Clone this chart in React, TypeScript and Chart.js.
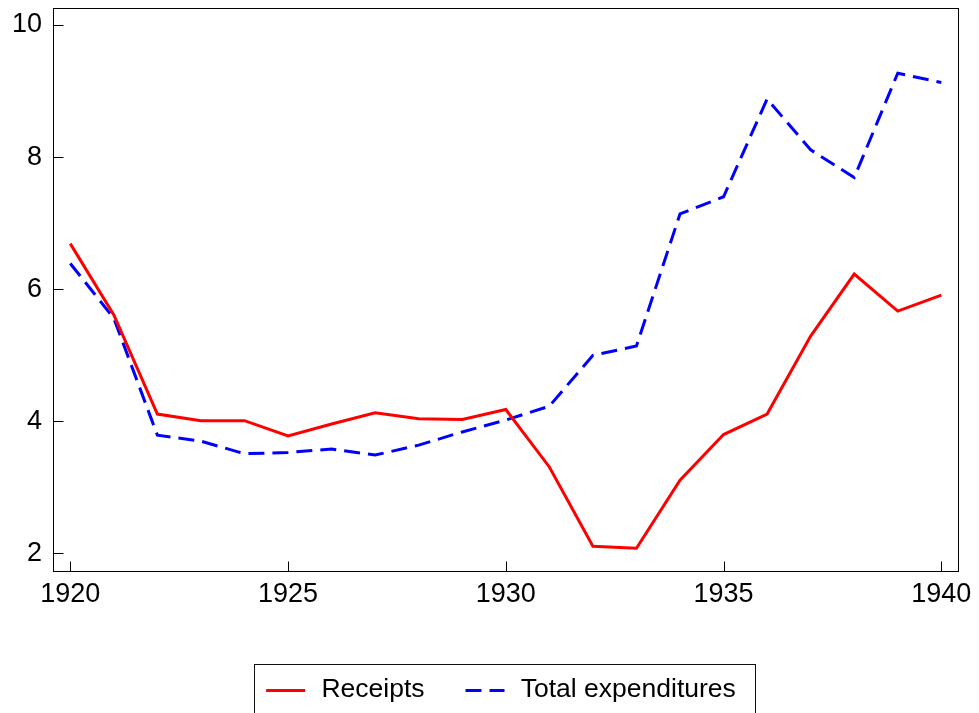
import React, { useEffect, useRef } from "react";
import { Chart, registerables } from "chart.js";

Chart.register(...registerables);

const years = [1920, 1921, 1922, 1923, 1924, 1925, 1926, 1927, 1928, 1929, 1930, 1931, 1932, 1933, 1934, 1935, 1936, 1937, 1938, 1939, 1940];
const receipts = [6.69, 5.61, 4.11, 4.01, 4.01, 3.78, 3.96, 4.13, 4.04, 4.03, 4.18, 3.31, 2.11, 2.08, 3.11, 3.80, 4.11, 5.29, 6.23, 5.67, 5.91];
const expenditures = [6.39, 5.56, 3.79, 3.70, 3.51, 3.53, 3.58, 3.49, 3.64, 3.84, 4.02, 4.23, 5.00, 5.14, 7.14, 7.40, 8.88, 8.11, 7.69, 9.27, 9.13];
const seriesNames = ["Receipts", "Total expenditures"];
const yTicks = [2, 4, 6, 8, 10];
const xTicks = [1920, 1925, 1930, 1935, 1940];

const FONT = "'Liberation Sans', Arial, Helvetica, sans-serif";
const LEGEND_FONT = 26.5;
const LEGEND_PAD = 43;
const SAMPLE_W = 39;

const framePlugin = {
  id: "frame",
  afterLayout(chart: any) {
    const lg = chart.legend;
    const a = chart.chartArea;
    if (lg && a) {
      const target = (a.left + a.right) / 2 - 3.5;
      const d = target - (lg.left + lg.right) / 2;
      lg.left += d;
      lg.right += d;
    }
  },
  afterDraw(chart: any) {
    const ctx = chart.ctx;
    const a = chart.chartArea;
    ctx.save();
    ctx.strokeStyle = "#000";
    ctx.lineWidth = 1;
    ctx.setLineDash([]);
    const l = Math.round(a.left) + 0.5;
    const t = Math.round(a.top) + 0.5;
    const r = Math.round(a.right) + 0.5;
    const b = Math.round(a.bottom) + 0.5;
    ctx.strokeRect(l, t, r - l, b - t);
    const xs = chart.scales.x;
    const ys = chart.scales.y;
    ctx.beginPath();
    xs.ticks.forEach((tk: any) => {
      const px = Math.round(xs.getPixelForValue(tk.value)) + 0.5;
      ctx.moveTo(px, b);
      ctx.lineTo(px, b - 10);
    });
    ys.ticks.forEach((tk: any) => {
      const py = Math.round(ys.getPixelForValue(tk.value)) + 0.5;
      ctx.moveTo(l, py);
      ctx.lineTo(l + 10, py);
    });
    ctx.stroke();
    const lg = chart.legend;
    const hb = lg && lg.legendHitBoxes;
    if (hb && hb.length) {
      const first = hb[0];
      const last = hb[hb.length - 1];
      const cy = first.top + first.height / 2;
      // legend samples
      hb.forEach((h: any, i: number) => {
        const ds: any = chart.data.datasets[i];
        const y = Math.round(h.top + h.height / 2) + 0.5;
        ctx.beginPath();
        ctx.strokeStyle = ds.borderColor;
        ctx.lineWidth = ds.borderWidth;
        ctx.setLineDash(ds.borderDash || []);
        ctx.moveTo(h.left - 2, y);
        ctx.lineTo(h.left - 2 + SAMPLE_W, y);
        ctx.stroke();
      });
      ctx.setLineDash([]);
      ctx.lineWidth = 1;
      const bl = Math.round(first.left - 14) + 0.5;
      const br = Math.round(last.left + last.width + 19) + 0.5;
      const bt = Math.round(cy - 26) + 0.5;
      const bb = chart.height + 2;
      ctx.strokeStyle = "#111";
      ctx.strokeRect(bl, bt, br - bl, bb - bt);
    }
    ctx.restore();
  },
};

export default function App() {
  const ref = useRef<HTMLCanvasElement | null>(null);

  useEffect(() => {
    if (!ref.current) return;
    const chart = new Chart(ref.current, {
      type: "line",
      data: {
        datasets: [
          {
            label: seriesNames[0],
            data: years.map((y, i) => ({ x: y, y: receipts[i] })),
            borderColor: "rgb(255,0,0)",
            backgroundColor: "rgb(255,0,0)",
            borderWidth: 3,
            pointRadius: 0,
            tension: 0,
            fill: false,
          },
          {
            label: seriesNames[1],
            data: years.map((y, i) => ({ x: y, y: expenditures[i] })),
            borderColor: "rgb(0,0,255)",
            backgroundColor: "rgb(0,0,255)",
            borderWidth: 3,
            borderDash: [16, 8],
            pointRadius: 0,
            tension: 0,
            fill: false,
          },
        ],
      },
      options: {
        responsive: false,
        animation: false,
        devicePixelRatio: 1,
        layout: { padding: { top: 8, right: 21, left: 0, bottom: 0 } },
        scales: {
          x: {
            type: "linear",
            min: 1919.603,
            max: 1940.383,
            afterBuildTicks: (s: any) => {
              s.ticks = xTicks.map((v) => ({ value: v }));
            },
            afterFit: (s: any) => {
              s.height = 142 - (LEGEND_FONT + LEGEND_PAD + 10);
              s.paddingLeft = 0;
              s.paddingRight = 0;
            },
            grid: { display: false, drawTicks: false },
            border: { display: false },
            ticks: {
              color: "#000",
              font: { family: FONT, size: 27 },
              padding: 7,
              maxRotation: 0,
              autoSkip: false,
              callback: (v: any) => String(v),
            },
          },
          y: {
            type: "linear",
            min: 1.735,
            max: 10.257,
            afterBuildTicks: (s: any) => {
              s.ticks = yTicks.map((v) => ({ value: v }));
            },
            afterFit: (s: any) => {
              s.width = 53;
              s.paddingTop = 0;
              s.paddingBottom = 0;
            },
            grid: { display: false, drawTicks: false },
            border: { display: false },
            ticks: {
              color: "#000",
              font: { family: FONT, size: 27 },
              padding: 11,
              callback: (v: any) => String(v),
            },
          },
        },
        plugins: {
          legend: {
            position: "bottom",
            labels: {
              color: "#000",
              font: { family: FONT, size: LEGEND_FONT },
              usePointStyle: true,
              pointStyle: "line",
              pointStyleWidth: 40,
              padding: LEGEND_PAD,
              generateLabels: (chart: any) => {
                const items = Chart.defaults.plugins.legend.labels.generateLabels(chart);
                return items.map((it: any) => ({
                  ...it,
                  strokeStyle: "rgba(0,0,0,0)",
                  fillStyle: "rgba(0,0,0,0)",
                  lineWidth: 0,
                  lineDash: [],
                }));
              },
            },
          },
          tooltip: { enabled: false },
        },
      },
      plugins: [framePlugin],
    } as any);
    return () => chart.destroy();
  }, []);

  return (
    <div style={{ position: "absolute", left: 0, top: 0, width: 979, height: 713, background: "#fff" }}>
      <canvas ref={ref} width={979} height={713} style={{ display: "block" }} />
    </div>
  );
}
